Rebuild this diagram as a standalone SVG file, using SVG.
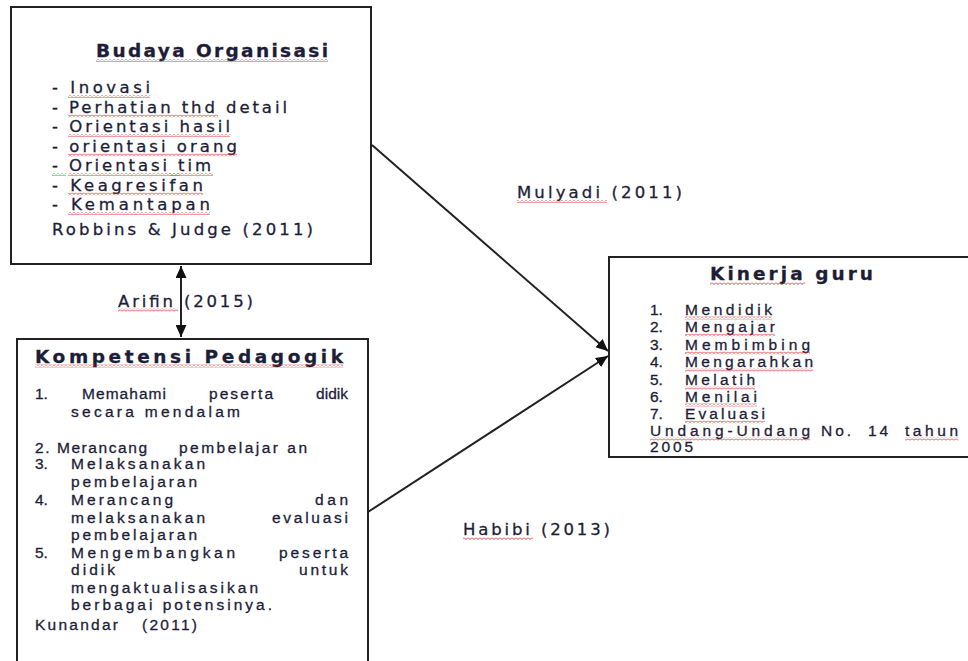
<svg xmlns="http://www.w3.org/2000/svg" width="968" height="661" viewBox="0 0 968 661">
<style>
.box{fill:#fff;stroke:#222;stroke-width:2}
.t{font-family:"DejaVu Sans",Verdana,sans-serif;fill:#1d1d38;stroke:#1d1d38;stroke-width:0.3}
.title{font-size:18.5px;font-weight:bold}
.li{font-size:16.5px}
.a{font-family:"Liberation Sans",Arial,sans-serif;font-size:15.5px;fill:#1d1d38;stroke:#1d1d38;stroke-width:0.3}
.k{font-family:"Liberation Sans",Arial,sans-serif;font-size:15.5px;fill:#1d1d38;stroke:#1d1d38;stroke-width:0.3}
.conn{stroke:#222;stroke-width:2;fill:none}
.sq{fill:url(#sq)}
.sg{fill:url(#sg)}
</style>
<defs>
<pattern id="sq" width="4" height="3" patternUnits="userSpaceOnUse">
<path d="M0,0.5 L2,2.5 L4,0.5" fill="none" stroke="#e02424" stroke-width="0.9"/>
</pattern>
<pattern id="sg" width="4" height="3" patternUnits="userSpaceOnUse">
<path d="M0,0.5 L2,2.5 L4,0.5" fill="none" stroke="#2a9a2a" stroke-width="0.9"/>
</pattern>
<marker id="ah" markerUnits="userSpaceOnUse" markerWidth="12" markerHeight="11" refX="12" refY="5.5" orient="auto-start-reverse">
<path d="M0,0 L12,5.5 L0,11 z" fill="#111"/>
</marker>
</defs>
<rect width="968" height="661" fill="#fff"/>

<g id="node-budaya">
<rect class="box" x="11" y="7" width="360" height="257"/>
<text class="t title" x="96" y="57" textLength="232" lengthAdjust="spacing">Budaya Organisasi</text>
<rect class="sq" x="96" y="59" width="232" height="3"/>
<text class="t li" x="52" y="93" textLength="98" lengthAdjust="spacing">- Inovasi</text>
<text class="t li" x="52" y="112.5" textLength="235" lengthAdjust="spacing">- Perhatian thd detail</text>
<text class="t li" x="52" y="132" textLength="178" lengthAdjust="spacing">- Orientasi hasil</text>
<text class="t li" x="52" y="151.5" textLength="185" lengthAdjust="spacing">- orientasi orang</text>
<text class="t li" x="52" y="171" textLength="159" lengthAdjust="spacing">- Orientasi tim</text>
<text class="t li" x="52" y="190.5" textLength="151" lengthAdjust="spacing">- Keagresifan</text>
<text class="t li" x="52" y="210" textLength="158" lengthAdjust="spacing">- Kemantapan</text>
<text class="t li" x="52" y="235" textLength="261" lengthAdjust="spacing">Robbins  &amp; Judge (2011)</text>
<rect class="sq" x="68" y="95" width="82" height="3"/>
<rect class="sq" x="68" y="114.5" width="150" height="3"/>
<rect class="sq" x="68" y="134" width="162" height="3"/>
<rect class="sq" x="68" y="153.5" width="169" height="3"/>
<rect class="sq" x="68" y="173" width="145" height="3"/>
<rect class="sg" x="52" y="173" width="14" height="3"/>
<rect class="sg" x="170" y="173" width="10" height="3"/>
<rect class="sq" x="68" y="192.5" width="135" height="3"/>
<rect class="sq" x="68" y="212" width="142" height="3"/>
</g>

<g id="node-kompetensi">
<rect class="box" x="17" y="339" width="351" height="340"/>
<text class="t title" x="35" y="362.5" textLength="308" lengthAdjust="spacing">Kompetensi Pedagogik</text>
<rect class="sq" x="35" y="364.5" width="308" height="3"/>
<text class="a" x="35" y="399">1.</text>
<text class="a" x="82" y="399" textLength="84" lengthAdjust="spacing">Memahami</text>
<text class="a" x="209" y="399" textLength="64" lengthAdjust="spacing">peserta</text>
<text class="a" x="348" y="399" text-anchor="end">didik</text>
<text class="a" x="71" y="417" textLength="169" lengthAdjust="spacing">secara mendalam</text>
<text class="a" x="35" y="453" textLength="112" lengthAdjust="spacing">2. Merancang</text>
<text class="a" x="179" y="453" textLength="128" lengthAdjust="spacing">pembelajar an</text>
<text class="a" x="35" y="469">3.</text>
<text class="a" x="71" y="469" textLength="134" lengthAdjust="spacing">Melaksanakan</text>
<text class="a" x="71" y="487" textLength="126" lengthAdjust="spacing">pembelajaran</text>
<text class="a" x="35" y="505">4.</text>
<text class="a" x="71" y="505" textLength="102" lengthAdjust="spacing">Merancang</text>
<text class="a" x="315" y="505" textLength="33" lengthAdjust="spacing">dan</text>
<text class="a" x="71" y="523" textLength="134" lengthAdjust="spacing">melaksanakan</text>
<text class="a" x="272" y="523" textLength="76" lengthAdjust="spacing">evaluasi</text>
<text class="a" x="71" y="540" textLength="126" lengthAdjust="spacing">pembelajaran</text>
<text class="a" x="35" y="558">5.</text>
<text class="a" x="71" y="558" textLength="164" lengthAdjust="spacing">Mengembangkan</text>
<text class="a" x="279" y="558" textLength="69" lengthAdjust="spacing">peserta</text>
<text class="a" x="71" y="575" textLength="44" lengthAdjust="spacing">didik</text>
<text class="a" x="299" y="575" textLength="49" lengthAdjust="spacing">untuk</text>
<text class="a" x="71" y="593" textLength="187" lengthAdjust="spacing">mengaktualisasikan</text>
<text class="a" x="71" y="610" textLength="201" lengthAdjust="spacing">berbagai  potensinya.</text>
<text class="a" x="35" y="630" textLength="83" lengthAdjust="spacing">Kunandar</text>
<text class="a" x="142" y="630" textLength="55" lengthAdjust="spacing">(2011)</text>
</g>

<g id="node-kinerja">
<rect class="box" x="609" y="257" width="380" height="200"/>
<text class="t title" x="710" y="280" textLength="163" lengthAdjust="spacing">Kinerja guru</text>
<rect class="sq" x="710" y="282" width="95" height="3"/>
<text class="k" x="650" y="315">1.</text>
<text class="k" x="685" y="315" textLength="87" lengthAdjust="spacing">Mendidik</text>
<text class="k" x="650" y="332">2.</text>
<text class="k" x="685" y="332" textLength="90" lengthAdjust="spacing">Mengajar</text>
<text class="k" x="650" y="350">3.</text>
<text class="k" x="685" y="350" textLength="125" lengthAdjust="spacing">Membimbing</text>
<text class="k" x="650" y="367">4.</text>
<text class="k" x="685" y="367" textLength="128" lengthAdjust="spacing">Mengarahkan</text>
<text class="k" x="650" y="385">5.</text>
<text class="k" x="685" y="385" textLength="70" lengthAdjust="spacing">Melatih</text>
<text class="k" x="650" y="402">6.</text>
<text class="k" x="685" y="402" textLength="72" lengthAdjust="spacing">Menilai</text>
<text class="k" x="650" y="419">7.</text>
<text class="k" x="685" y="419" textLength="80" lengthAdjust="spacing">Evaluasi</text>
<text class="k" x="650" y="436" textLength="160" lengthAdjust="spacing">Undang-Undang</text>
<text class="k" x="821" y="436" textLength="30" lengthAdjust="spacing">No.</text>
<text class="k" x="868" y="436" textLength="20" lengthAdjust="spacing">14</text>
<text class="k" x="905" y="436" textLength="53" lengthAdjust="spacing">tahun</text>
<text class="k" x="650" y="452" textLength="43" lengthAdjust="spacing">2005</text>
<rect class="sq" x="685" y="316.5" width="87" height="3"/>
<rect class="sq" x="685" y="333.5" width="90" height="3"/>
<rect class="sq" x="685" y="351.5" width="125" height="3"/>
<rect class="sq" x="685" y="368.5" width="128" height="3"/>
<rect class="sq" x="685" y="386.5" width="70" height="3"/>
<rect class="sq" x="685" y="403.5" width="72" height="3"/>
<rect class="sq" x="685" y="420.5" width="80" height="3"/>
<rect class="sq" x="650" y="437.5" width="160" height="3"/>
<rect class="sq" x="905" y="437.5" width="53" height="3"/>
</g>

<g id="connectors">
<line class="conn" x1="181" y1="266" x2="181" y2="337" marker-start="url(#ah)" marker-end="url(#ah)"/>
<line class="conn" x1="372" y1="145" x2="608" y2="351" marker-end="url(#ah)"/>
<line class="conn" x1="368" y1="512" x2="608" y2="356" marker-end="url(#ah)"/>
<text class="t li" x="118" y="306.5" textLength="135" lengthAdjust="spacing">Arifin (2015)</text>
<rect class="sq" x="118" y="308.5" width="60" height="3"/>
<text class="t li" x="517" y="198" textLength="165" lengthAdjust="spacing">Mulyadi (2011)</text>
<rect class="sq" x="517" y="200" width="90" height="3"/>
<text class="t li" x="463" y="535" textLength="147" lengthAdjust="spacing">Habibi (2013)</text>
<rect class="sq" x="463" y="537" width="70" height="3"/>
</g>
</svg>
